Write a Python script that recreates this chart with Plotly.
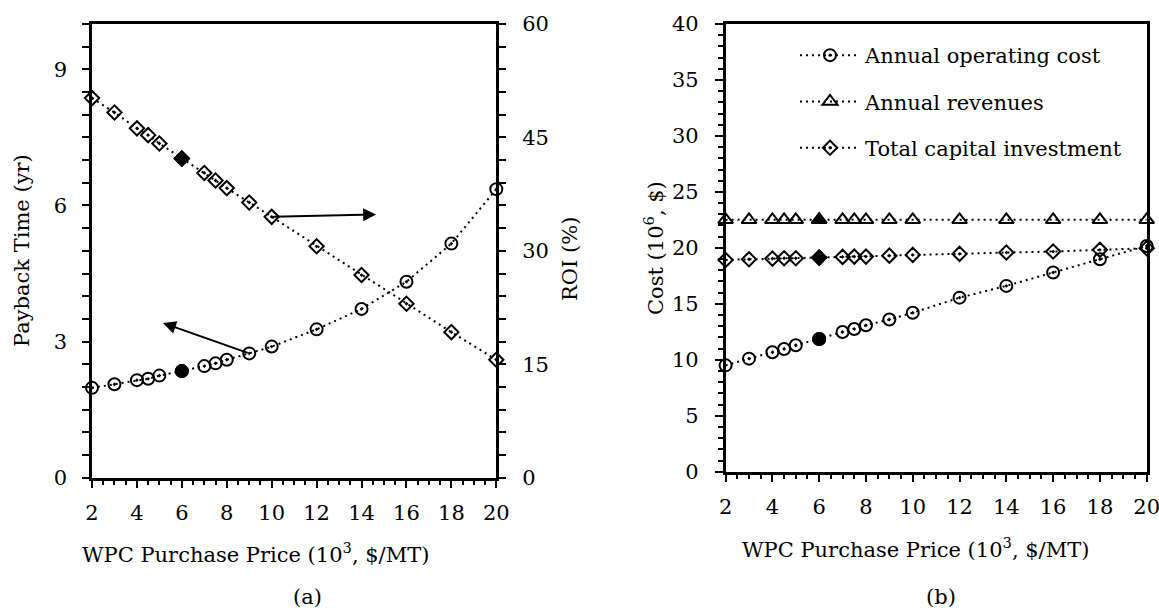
import plotly.graph_objects as go

# ---------------- data ----------------
price = [2, 3, 4, 4.5, 5, 6, 7, 7.5, 8, 9, 10, 12, 14, 16, 18, 20]
payback = [1.98, 2.06, 2.15, 2.18, 2.25, 2.35, 2.46, 2.52, 2.60, 2.74, 2.89, 3.27, 3.72, 4.32, 5.16, 6.36]
roi = [50.2, 48.3, 46.2, 45.3, 44.2, 42.2, 40.3, 39.3, 38.3, 36.4, 34.5, 30.6, 26.8, 23.0, 19.25, 15.6]
op_cost = [9.5, 10.1, 10.67, 10.96, 11.3, 11.86, 12.48, 12.75, 13.08, 13.6, 14.2, 15.55, 16.6, 17.8, 18.98, 20.17]
revenues = [22.5] * 16
capital = [18.92, 18.98, 19.04, 19.07, 19.07, 19.13, 19.19, 19.22, 19.22, 19.3, 19.37, 19.46, 19.58, 19.67, 19.82, 19.97]
base_price = 6  # highlighted (filled) case
series_names = ["Annual operating cost", "Annual revenues", "Total capital investment"]

FONT = "DejaVu Serif"
FS = 21
W, H = 1159, 612
DOT = "2px,4px"

bi = price.index(base_price)

fig = go.Figure()

def add_series(x_all, y_all, sym_open, sym_fill, size, xa, ya, name=None, legend=False, group=None):
    fig.add_trace(go.Scatter(x=x_all, y=y_all, mode="lines+markers", xaxis=xa, yaxis=ya,
                             line=dict(color="black", width=2, dash=DOT),
                             marker=dict(symbol=sym_open, size=size, color="black",
                                         line=dict(color="black", width=2)),
                             cliponaxis=False, name=name, showlegend=legend,
                             legendgroup=group))
    fig.add_trace(go.Scatter(x=[x_all[bi]], y=[y_all[bi]], mode="markers", xaxis=xa, yaxis=ya,
                             marker=dict(symbol=sym_fill, size=size, color="black",
                                         line=dict(color="black", width=2)),
                             cliponaxis=False, showlegend=False))

# (a) payback on left axis, ROI on right axis
add_series(price, payback, "circle-open-dot", "circle", 12, "x", "y")
add_series(price, roi, "diamond-open-dot", "diamond", 11, "x", "y2")

# (b) costs
add_series(price, op_cost, "circle-open-dot", "circle", 12, "x2", "y3", series_names[0], True, "g1")
add_series(price, revenues, "triangle-up-open", "triangle-up", 13, "x2", "y3", series_names[1], True, "g2")
add_series(price, capital, "diamond-open-dot", "diamond", 11, "x2", "y3", series_names[2], True, "g3")

# plot-area geometry (pixels)
aL, aR, aT, aB = 92, 496.3, 24, 477.7
bL, bR, bT, bB = 725.6, 1146.7, 24, 471.7

tickfont = dict(family=FONT, size=FS, color="black")
common = dict(showgrid=False, zeroline=False, showline=True, linecolor="black", linewidth=2.5,
              ticks="outside", tickcolor="black", tickwidth=2, tickfont=tickfont, automargin=False,
              ticklabeloverflow="allow")

fig.update_layout(
    width=W, height=H, margin=dict(l=0, r=0, t=0, b=0, autoexpand=False),
    paper_bgcolor="white", plot_bgcolor="white",
    font=dict(family=FONT, size=FS, color="black"),
    xaxis=dict(domain=[aL / W, aR / W], anchor="y", range=[2, 20], tick0=2, dtick=2, ticklen=8,
               mirror=True, ticklabelstandoff=6,
               minor=dict(dtick=0.5, tick0=2, ticks="outside", ticklen=5, tickwidth=2, tickcolor="black"),
               **common),
    yaxis=dict(domain=[1 - aB / H, 1 - aT / H], anchor="x", range=[0, 10], tick0=0, dtick=3, ticklen=7,
               ticklabelstandoff=11,
               minor=dict(dtick=0.5, tick0=0, ticks="outside", ticklen=7, tickwidth=2, tickcolor="black"),
               **common),
    yaxis2=dict(overlaying="y", side="right", anchor="x", range=[0, 60], tick0=0, dtick=15, ticklen=7,
                ticklabelstandoff=12,
                minor=dict(dtick=3, tick0=0, ticks="outside", ticklen=7, tickwidth=2, tickcolor="black"),
                **common),
    xaxis2=dict(domain=[bL / W, bR / W], anchor="y3", range=[2, 20], tick0=2, dtick=2, ticklen=8,
                mirror=True, ticklabelstandoff=6,
                minor=dict(dtick=0.5, tick0=2, ticks="outside", ticklen=5, tickwidth=2, tickcolor="black"),
                **common),
    yaxis3=dict(domain=[1 - bB / H, 1 - bT / H], anchor="x2", range=[0, 40], tick0=0, dtick=5, ticklen=8,
                mirror=True, ticklabelstandoff=12,
                minor=dict(dtick=1, tick0=0, ticks="outside", ticklen=5, tickwidth=2, tickcolor="black"),
                **common),
    legend=dict(x=795 / W, y=1 - 35 / H, xanchor="left", yanchor="top", bgcolor="rgba(0,0,0,0)",
                font=dict(family=FONT, size=FS, color="black"), itemwidth=60,
                tracegroupgap=16, traceorder="grouped"),
)

def label(text, x, y, angle=0):
    fig.add_annotation(text=text, x=x / W, y=1 - y / H, xref="paper", yref="paper",
                       showarrow=False, textangle=angle, xanchor="center", yanchor="middle",
                       font=dict(family=FONT, size=FS, color="black"))

label("Payback Time (yr)", 22, 251, -90)
label("ROI (%)", 570, 259, -90)
label("WPC Purchase Price (10<sup>3</sup>, $/MT)", 255, 553)
label("(a)", 307, 597)
label("Cost (10<sup>6</sup>, $)", 654, 248, -90)
label("WPC Purchase Price (10<sup>3</sup>, $/MT)", 915, 548)
label("(b)", 941, 597)

# arrows pointing to the relevant axis
fig.add_annotation(x=14.65, y=34.8, ax=10.0, ay=34.5, xref="x", yref="y2", axref="x", ayref="y2",
                   text="", showarrow=True, arrowhead=2, arrowsize=1.3, arrowwidth=2, arrowcolor="black")
fig.add_annotation(x=5.16, y=3.41, ax=9.0, ay=2.74, xref="x", yref="y", axref="x", ayref="y",
                   text="", showarrow=True, arrowhead=2, arrowsize=1.3, arrowwidth=2, arrowcolor="black")

fig.write_html("out.html")
